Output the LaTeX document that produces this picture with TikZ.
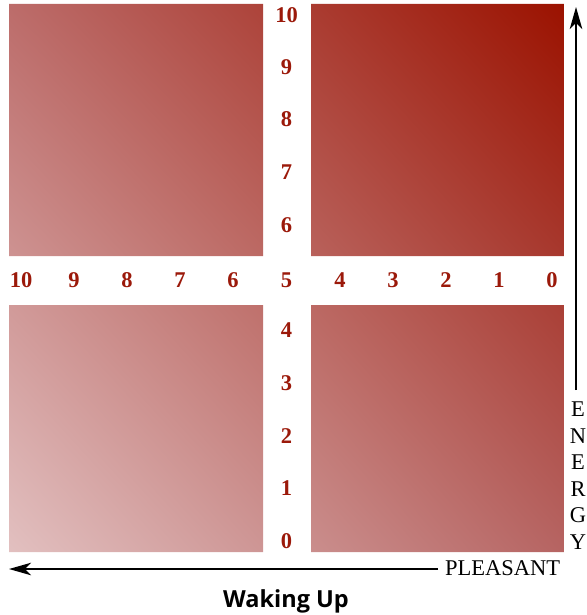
\documentclass[tikz,border=0pt]{standalone}
\usepackage{fontspec}
\setmainfont{Liberation Serif}
\newfontfamily\wakefont{Open Sans}
\usetikzlibrary{arrows.meta,shadings}
\definecolor{numred}{RGB}{155,25,10}
\definecolor{gLL}{RGB}{226,192,192}
\definecolor{gUR}{RGB}{155,18,0}
\definecolor{gUL}{RGB}{188,108,106}
\definecolor{gLR}{RGB}{182,100,98}
\begin{document}
\begin{tikzpicture}[x=1pt,y=-1pt,
  num/.style={font=\fontsize{22.5}{22.5}\selectfont\bfseries, text=numred, inner sep=0pt},
  axisarrow/.style={line width=2pt, -{Stealth[length=22pt,width=12.5pt,inset=6pt]}},
  axislabel/.style={font=\fontsize{22.5}{26.5}\selectfont, inner sep=0pt}]
\useasboundingbox (0,0) rectangle (586,615);
\begin{scope}
  \clip (9,4) rectangle (263,256)
        (311,4) rectangle (564,256)
        (9,305) rectangle (263,552)
        (311,305) rectangle (564,552);
  \shade[lower left=gLL, upper right=gUR, upper left=gUL, lower right=gLR]
        (9,552) rectangle (564,4);
\end{scope}
% vertical scale
\foreach \v/\y in {10/15, 9/67, 8/119, 7/172, 6/225, 4/330, 3/383, 2/436, 1/488, 0/541}
  \node[num] (v\v) at (286.5,\y) {\v};
% horizontal scale
\foreach \v/\x in {10/21, 9/74, 8/127, 7/180, 6/233, 5/286.5, 4/340, 3/393, 2/446, 1/499, 0/552}
  \node[num] (h\v) at (\x,280) {\v};
% axes
\node[axislabel, align=center, anchor=north] (energy) at (578,402) {E\\N\\E\\R\\G\\Y};
\node[axislabel, anchor=base west] (pleasant) at (445,575) {PLEASANT};
\coordinate (vtail) at (576,390);
\coordinate (vtip) at (576,7);
\draw[axisarrow] (vtail) -- (vtip);
\coordinate (htail) at (438,569);
\coordinate (htip) at (9,569);
\draw[axisarrow] (htail) -- (htip);
\node[font=\wakefont\bfseries\fontsize{23.5}{23.5}\selectfont, anchor=base, inner sep=0pt] (title) at (286,607) {Waking Up};
\end{tikzpicture}
\end{document}
